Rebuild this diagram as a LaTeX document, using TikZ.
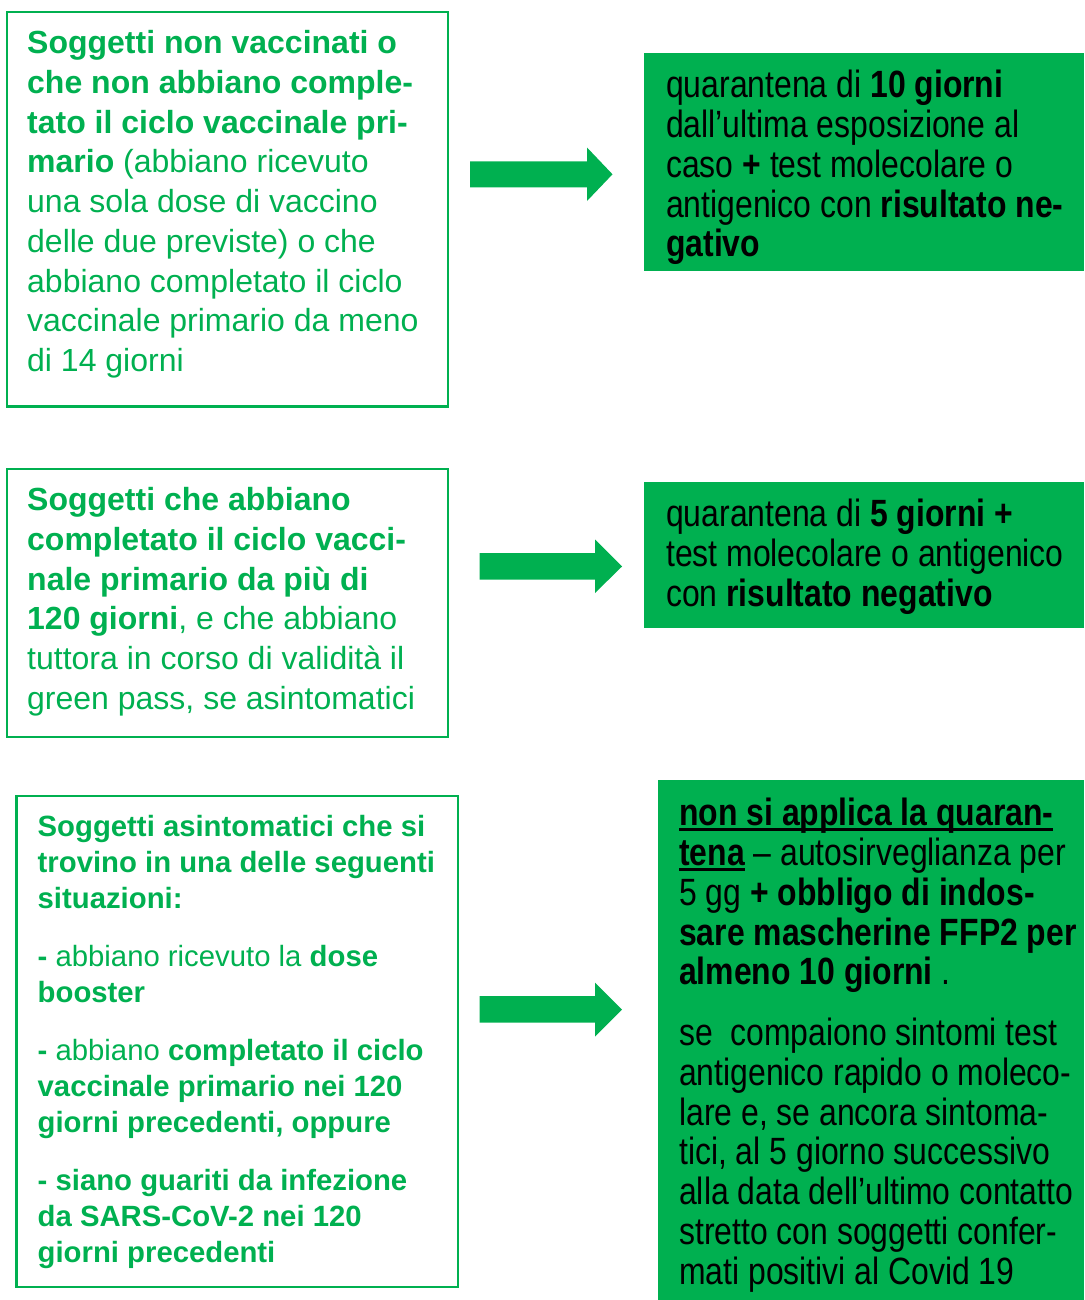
\documentclass[tikz,border=0pt]{standalone}
\usepackage{fontspec}
\setmainfont{Liberation Sans}
\newfontfamily\narrowfont[FakeStretch=0.84]{Liberation Sans}
\definecolor{xgreen}{HTML}{00B050}
\newcommand\ulbar[1]{\setbox0\hbox{#1}\rlap{\rule[-5pt]{\wd0}{3pt}}\copy0\relax}
\begin{document}
\begin{tikzpicture}[x=1pt,y=-1pt,
  leftbox/.style={draw=xgreen, line width=2.5pt, anchor=north west, inner sep=0pt, outer sep=0pt},
  rightbox/.style={fill=xgreen, anchor=north west, inner sep=0pt, outer sep=0pt},
  blockarrow/.style={fill=xgreen},
  lefttext/.style={anchor=north west, inner sep=0pt, align=left, text=xgreen, font=\fontsize{32}{39.75}\selectfont},
  smalltext/.style={anchor=north west, inner sep=0pt, align=left, text=xgreen, font=\fontsize{29.3}{36}\selectfont},
  righttext/.style={anchor=north west, inner sep=0pt, align=left, text=black, font=\narrowfont\fontsize{38}{39.75}\selectfont}
]
\useasboundingbox (0,0) rectangle (1084,1300);

% left boxes
\node[leftbox, minimum width=441pt, minimum height=394.5pt] (b1) at (7,12) {};
\node[leftbox, minimum width=441pt, minimum height=268pt] (b2) at (7,469) {};
\node[leftbox, minimum width=441.5pt, minimum height=491pt] (b3) at (16.5,796) {};

% right boxes
\node[rightbox, minimum width=440pt, minimum height=217.5pt] (r1) at (644,53) {};
\node[rightbox, minimum width=440pt, minimum height=146pt] (r2) at (644,481.5) {};
\node[rightbox, minimum width=426pt, minimum height=520pt] (r3) at (658,780) {};

% arrows
\fill[blockarrow] (470,161.5) -- (587,161.5) -- (587,147.5) -- (612.5,174.3) -- (587,201) -- (587,187.5) -- (470,187.5) -- cycle;
\fill[blockarrow] (479.5,553) -- (595,553) -- (595,539.5) -- (622,566.5) -- (595,593) -- (595,579.5) -- (479.5,579.5) -- cycle;
\fill[blockarrow] (479.5,996) -- (595,996) -- (595,982.5) -- (622,1009.5) -- (595,1036.5) -- (595,1022.5) -- (479.5,1022.5) -- cycle;

% texts
\node[lefttext] (t1) at (27,23.5) {\rule{0pt}{30pt}\textbf{Soggetti non vaccinati o}\\
\textbf{che non abbiano comple-}\\
\textbf{tato il ciclo vaccinale pri-}\\
\textbf{mario} (abbiano ricevuto\\
una sola dose di vaccino\\
delle due previste) o che\\
abbiano completato il ciclo\\
vaccinale primario da meno\\
di 14 giorni};

\node[lefttext] (t2) at (27,480.5) {\rule{0pt}{30pt}\textbf{Soggetti che abbiano}\\
\textbf{completato il ciclo vacci-}\\
\textbf{nale primario da più di}\\
\textbf{120 giorni}, e che abbiano\\
tuttora in corso di validità il\\
green pass, se asintomatici};

\node[smalltext] (t3) at (37.5,809.5) {\rule{0pt}{27pt}\textbf{Soggetti asintomatici che si}\\
\textbf{trovino in una delle seguenti}\\
\textbf{situazioni:}\\[22pt]
\textbf{-} abbiano ricevuto la \textbf{dose}\\
\textbf{booster}\\[22pt]
\textbf{-} abbiano \textbf{completato il ciclo}\\
\textbf{vaccinale primario nei 120}\\
\textbf{giorni precedenti, oppure}\\[22pt]
\textbf{- siano guariti da infezione}\\
\textbf{da SARS-CoV-2 nei 120}\\
\textbf{giorni precedenti}};

\node[righttext] (u1) at (666,63.6) {\rule{0pt}{34pt}quarantena di \textbf{10 giorni}\\
dall’ultima esposizione al\\
caso \textbf{+} test molecolare o\\
antigenico con \textbf{risultato ne-}\\
\textbf{gativo}};

\node[righttext] (u2) at (666,492.6) {\rule{0pt}{34pt}quarantena di \textbf{5 giorni +}\\
test molecolare o antigenico\\
con \textbf{risultato negativo}};

\node[righttext] (u3) at (679,791.6) {\rule{0pt}{34pt}\ulbar{\textbf{non si applica la quaran-}}\\
\ulbar{\textbf{tena}} – autosirveglianza per\\
5 gg \textbf{+ obbligo di indos-}\\
\textbf{sare mascherine FFP2 per}\\
\textbf{almeno 10 giorni} .\\[21pt]
se\ \ compaiono sintomi test\\
antigenico rapido o moleco-\\
lare e, se ancora sintoma-\\
tici, al 5 giorno successivo\\
alla data dell’ultimo contatto\\
stretto con soggetti confer-\\
mati positivi al Covid 19};
\end{tikzpicture}
\end{document}
